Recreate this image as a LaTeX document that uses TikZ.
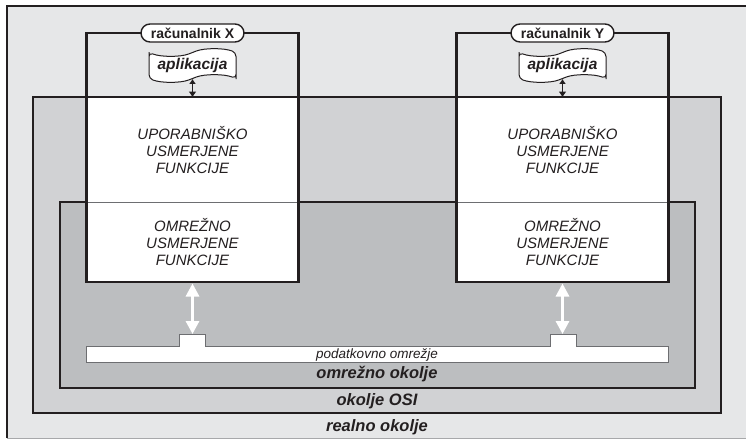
\documentclass[tikz,border=0pt]{standalone}
\usepackage{fontspec}
\setmainfont{Liberation Sans}
\usetikzlibrary{arrows.meta,positioning,shapes.misc,shapes.symbols}
\definecolor{cLine}{HTML}{231F20}
\definecolor{cReal}{HTML}{E6E7E8}
\definecolor{cOsi} {HTML}{D1D2D4}
\definecolor{cNet} {HTML}{BCBEC0}
\definecolor{cBus} {HTML}{6D6E71}
\tikzset{
  frame/.style   ={draw=cLine,line width=2.5pt},
  upper/.style   ={fill=white,inner sep=0pt,outer sep=0pt,minimum width=212pt,
                   minimum height=105pt,align=center,
                   font=\fontsize{15}{16.8}\selectfont\itshape,text=cLine},
  lower/.style   ={upper,minimum height=80pt},
  pc/.style      ={rounded rectangle,draw=cLine,line width=1.4pt,fill=white,
                   minimum width=107pt,minimum height=18pt,inner sep=2pt,
                   font=\fontsize{14}{16}\selectfont\bfseries,text=cLine},
  app/.style     ={tape,tape bend height=7pt,rounded corners=4pt,draw=cLine,
                   line width=1pt,fill=white,
                   minimum width=87pt,minimum height=33pt,inner sep=2pt,
                   font=\fontsize{15.5}{17}\selectfont\bfseries\itshape,text=cLine},
  tiny arrow/.style={draw=cLine,line width=1.2pt,
                   {Latex[length=5pt,width=7pt]}-{Latex[length=6pt,width=8pt]}},
  link/.style    ={white,line width=3pt,shorten <=1.5pt,
                   {Triangle[length=13pt,width=13pt]}-{Triangle[length=13pt,width=13pt]}},
  bus/.style     ={fill=white,draw=cBus,line width=1pt},
  envlbl/.style  ={font=\fontsize{16.5}{18}\selectfont\bfseries\itshape,text=cLine,inner sep=1pt},
  buslbl/.style  ={font=\fontsize{13.5}{15}\selectfont\itshape,text=cLine,inner sep=1pt},
}

\begin{document}
\begin{tikzpicture}[x=1pt,y=-1pt]
\useasboundingbox (0,0) rectangle (746,440);

% ===== nested environments =================================================
\fill[cReal] (7,6) rectangle (746,438);
\draw[frame] (7,438) -- (7,6) -- (746,6);
\draw[cBus!60,line width=1pt] (7,438.5) -- (746,438.5);
\draw[frame,fill=cOsi] (33,97)  rectangle (721,413);
\draw[frame,fill=cNet] (60,202) rectangle (695,388);

% ===== the two computers ===================================================
\foreach \c/\x in {X/192.5, Y/562.5}{%
  \node[upper] (u\c) at (\x,150) {UPORABNIŠKO\\USMERJENE\\FUNKCIJE};
  \node[lower] (o\c) at (\x,242) {OMREŽNO\\USMERJENE\\FUNKCIJE};
  \draw[cBus,line width=0.6pt] (u\c.south west) -- (u\c.south east);
  \coordinate (top\c) at (\x,33);
  \draw[frame] (o\c.south west) rectangle (u\c.east |- top\c);
  \node[pc]  (pc\c)  at (top\c)   {računalnik \c};
  \node[app] (app\c) at (\x,65.5) {aplikacija};
  \draw[tiny arrow] (app\c.south) -- (u\c.north);
}

% ===== data network ========================================================
\draw[bus] (86,346) -- (179,346) -- (179,334) -- (205,334) -- (205,346)
  -- (550,346) -- (550,334) -- (576,334) -- (576,346) -- (668,346)
  -- (668,362) -- (86,362) -- cycle;
\coordinate (bX) at (192.5,334);
\coordinate (bY) at (562.5,334);
\draw[link] (oX.south) -- (bX);
\draw[link] (oY.south) -- (bY);

% ===== labels ==============================================================
\node[buslbl] (lbus)  at (377,354.5) {podatkovno omrežje};
\node[envlbl] (lnet)  at (377,374)   {omrežno okolje};
\node[envlbl] (losi)  at (377,401)   {okolje OSI};
\node[envlbl] (lreal) at (377,427)   {realno okolje};
\end{tikzpicture}
\end{document}
